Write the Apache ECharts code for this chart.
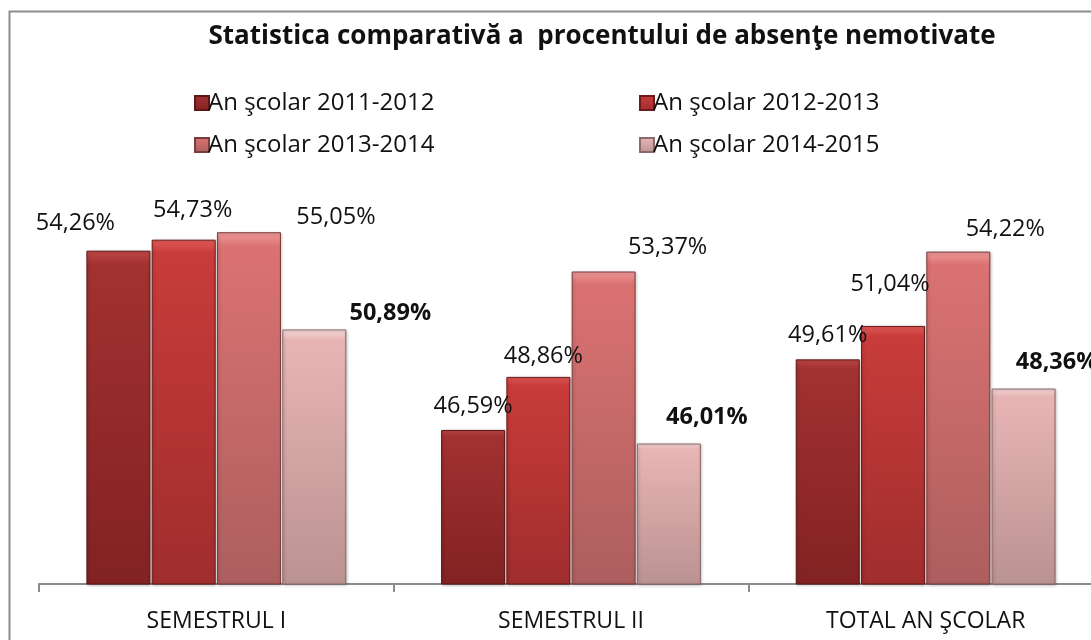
<!DOCTYPE html>
<html>
<head>
<meta charset="utf-8">
<script src="https://cdn.jsdelivr.net/npm/echarts@6/dist/echarts.min.js"></script>
<style>
  html, body { margin: 0; padding: 0; background: #fff; }
  #chart { width: 1091px; height: 640px; }
</style>
</head>
<body>
<div id="chart"></div>
<script>
var categories = ['SEMESTRUL I', 'SEMESTRUL II', 'TOTAL AN ŞCOLAR'];
var seriesNames = ['An şcolar 2011-2012', 'An şcolar 2012-2013', 'An şcolar 2013-2014', 'An şcolar 2014-2015'];
var an2011 = [54.26, 46.59, 49.61];
var an2012 = [54.73, 48.86, 51.04];
var an2013 = [55.05, 53.37, 54.22];
var an2014 = [50.89, 46.01, 48.36];

// label nudges, the labels were dragged around by hand in the original
var labelOffsets = [
    [[-43, -15], [0, -12], [0, -12]],
    [[9, -17], [5, -9], [-3, -30]],
    [[87, -3], [64, -12], [47, -10]],
    [[76, -4], [38, -14], [33, -14]]
];
var colors = [
    ['#c04848', '#a33131', '#822222'],
    ['#e25a58', '#c83c3a', '#a02d2d'],
    ['#f09a9a', '#db7272', '#ad5e5e'],
    ['#f9dada', '#e8b5b5', '#bb9292']
];
var borders = ['#5e1616', '#6e1a1a', '#7a3d3d', '#8a6a6a'];

var font = "'Open Sans', sans-serif";
var chart = echarts.init(document.getElementById('chart'));

function fmt(v) {
    return v.toFixed(2).replace('.', ',') + '%';
}

function makeSeries(idx, values) {
    var c = colors[idx];
    return {
        name: seriesNames[idx],
        type: 'bar',
        barWidth: 64,
        barGap: '2%',
        itemStyle: {
            color: new echarts.graphic.LinearGradient(0, 0, 0, 1, [
                { offset: 0, color: c[0] },
                { offset: 0.04, color: c[1] },
                { offset: 1, color: c[2] }
            ]),
            borderColor: borders[idx],
            borderWidth: 1,
            shadowColor: 'rgba(0,0,0,0.25)',
            shadowBlur: 3,
            shadowOffsetX: 1,
            shadowOffsetY: 1
        },
        data: values.map(function (v, i) {
            return {
                value: v,
                label: { offset: labelOffsets[idx][i] }
            };
        }),
        label: {
            show: true,
            position: 'top',
            distance: 0,
            lineHeight: 24,
            fontFamily: font,
            fontSize: 23.5,
            color: '#111',
            fontWeight: idx === 3 ? 'bold' : 'normal',
            formatter: function (p) { return fmt(p.value); }
        }
    };
}

var legendStyle = {
    orient: 'vertical',
    itemWidth: 14,
    itemHeight: 14,
    itemGap: 18,
    icon: 'rect',
    textStyle: { fontFamily: font, fontSize: 24, color: '#111', padding: [0, 0, 0, -6] }
};

chart.setOption({
    animation: false,
    backgroundColor: '#fff',
    title: {
        text: 'Statistica comparativă a  procentului de absenţe nemotivate',
        left: 597,
        textAlign: 'center',
        top: 19,
        textStyle: { fontFamily: font, fontSize: 26, fontWeight: 'bold', color: '#111' }
    },
    legend: [
        Object.assign({ left: 189, top: 86, data: [seriesNames[0], seriesNames[2]] }, legendStyle),
        Object.assign({ left: 634, top: 86, data: [seriesNames[1], seriesNames[3]] }, legendStyle)
    ],
    graphic: [{
        type: 'rect',
        shape: { x: 9.5, y: 11.5, width: 1100, height: 700 },
        style: { fill: 'none', stroke: '#8c8c8c', lineWidth: 2 },
        silent: true
    }],
    grid: { left: 39, top: 210, width: 1064, height: 374, outerBoundsMode: 'none', containLabel: false },
    xAxis: {
        type: 'category',
        data: categories,
        axisLine: { lineStyle: { color: '#8c8c8c', width: 2 } },
        axisTick: { show: true, length: 8, lineStyle: { color: '#8c8c8c', width: 2 } },
        axisLabel: { fontFamily: font, fontSize: 23, color: '#111', margin: 26 }
    },
    yAxis: {
        type: 'value',
        min: 40,
        max: 56,
        show: false
    },
    series: [
        makeSeries(0, an2011),
        makeSeries(1, an2012),
        makeSeries(2, an2013),
        makeSeries(3, an2014)
    ]
});
</script>
</body>
</html>
